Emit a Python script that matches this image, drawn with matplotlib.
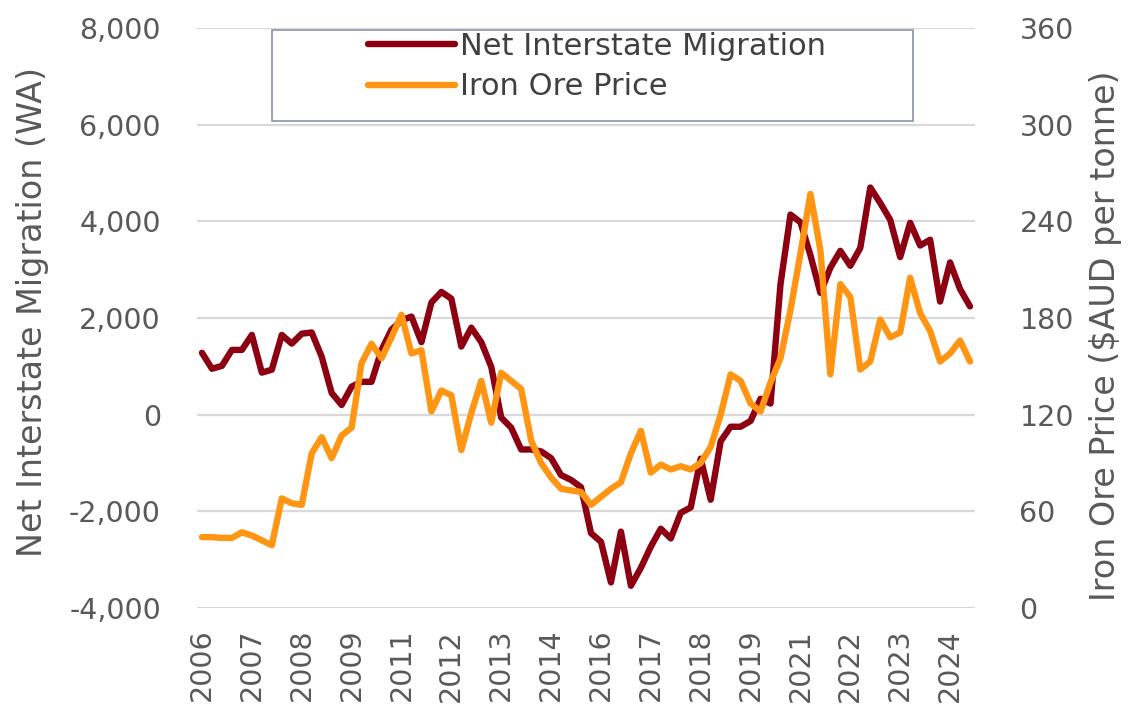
"""
WA net interstate migration vs iron ore price (quarterly)
"""
import numpy as np
import matplotlib
matplotlib.use("Agg")
import matplotlib.pyplot as plt
from matplotlib.patches import Rectangle
from matplotlib.ticker import FuncFormatter

plt.rcParams["font.family"] = ["DejaVu Sans"]

# quarterly series
migration = [1280, 950, 1010, 1340, 1340, 1650, 870, 930, 1650, 1470,
             1675, 1700, 1200, 450, 200, 580, 680, 680, 1340, 1760,
             1950, 2030, 1500, 2320, 2540, 2400, 1410, 1800, 1500, 990,
             -60, -270, -720, -720, -760, -900, -1250, -1350, -1500, -2450,
             -2630, -3470, -2420, -3540, -3170, -2730, -2360, -2560, -2030, -1920,
             -910, -1760, -550, -250, -250, -130, 330, 230, 2700, 4140,
             3980, 3300, 2520, 3040, 3390, 3080, 3450, 4700, 4380, 4030,
             3260, 3970, 3500, 3620, 2340, 3150, 2600, 2240]
iron_ore = [44, 44, 43.5, 43.5, 47, 45, 42, 39, 68, 65,
            64, 96, 106, 93, 107, 112, 152, 164, 155, 168,
            182, 158, 160, 122, 135, 132, 98, 121, 141, 115,
            146, 141, 136, 104, 90, 81, 74, 73, 72, 64,
            69, 74, 78, 96, 110, 84, 89, 86, 88, 86,
            90, 100, 120, 145, 141, 127, 122, 140, 155, 185,
            220, 257, 222, 145, 201, 193, 148, 153, 179, 168,
            171, 205, 183, 172, 153, 158, 166, 153]
quarters = np.arange(len(migration))

# excel labels every 5th quarter
tick_idx = quarters[::5]
tick_labels = ["2006", "2007", "2008", "2009", "2011", "2012", "2013", "2014",
               "2016", "2017", "2018", "2019", "2021", "2022", "2023", "2024"]

left_ticks = [-4000, -2000, 0, 2000, 4000, 6000, 8000]
right_ticks = [0, 60, 120, 180, 240, 300, 360]

RED = "#8C0012"
ORANGE = "#FF9513"
GRID = "#D9D9D9"
TXT = "#595959"
FS_TICK = 20.5
FS_LAB = 24

fig = plt.figure(figsize=(11.29, 7.15), dpi=100)
ax = fig.add_axes([197 / 1129, 1 - 608 / 715, 778 / 1129, 580 / 715])
ax2 = ax.twinx()

l1, = ax.plot(quarters, migration, color=RED, lw=4.6,
              solid_joinstyle="round", solid_capstyle="round",
              label="Net Interstate Migration")
l2, = ax2.plot(quarters, iron_ore, color=ORANGE, lw=4.6,
               solid_joinstyle="round", solid_capstyle="round",
               label="Iron Ore Price")

ax.set_xlim(-0.5, len(quarters) - 0.5)
ax.set_ylim(-4000, 8000)
ax2.set_ylim(0, 360)
ax.set_yticks(left_ticks)
ax2.set_yticks(right_ticks)
ax.yaxis.set_major_formatter(FuncFormatter(lambda v, p: f"{int(v):,}"))
ax.set_xticks(tick_idx)
ax.set_xticklabels(tick_labels, rotation=90)

ax.grid(axis="y", color=GRID, lw=1.6)
ax.set_axisbelow(True)
for a in (ax, ax2):
    for s in a.spines.values():
        s.set_visible(False)
ax.tick_params(axis="y", length=0, pad=26, labelsize=FS_TICK, labelcolor=TXT)
ax.tick_params(axis="x", length=0, pad=15, labelsize=FS_TICK, labelcolor=TXT)
ax2.tick_params(axis="y", length=0, pad=32, labelsize=FS_TICK, labelcolor=TXT)

ax.set_ylabel("Net Interstate Migration (WA)", fontsize=FS_LAB, color=TXT)
ax.yaxis.set_label_coords(-0.19, 0.51)
ax2.set_ylabel("Iron Ore Price ($AUD per tonne)", fontsize=FS_LAB, color=TXT,
               rotation=90)
ax2.yaxis.set_label_coords(1.146, 0.47)

# legend box + entries
fig.patches.append(Rectangle((272 / 1129, 1 - 121 / 715), 641 / 1129, 91 / 715,
                             transform=fig.transFigure, fill=False,
                             ec="#8894A8", lw=1.2))
fig.legend(handles=[l1, l2], loc="upper left",
           bbox_to_anchor=(368 / 1129, 1 - 32 / 715),
           bbox_transform=fig.transFigure, frameon=False,
           fontsize=22, labelcolor="#404040", handlelength=2.85,
           handletextpad=0.16, labelspacing=0.37, borderpad=0,
           borderaxespad=0)

fig.savefig("out.png", dpi=100)
